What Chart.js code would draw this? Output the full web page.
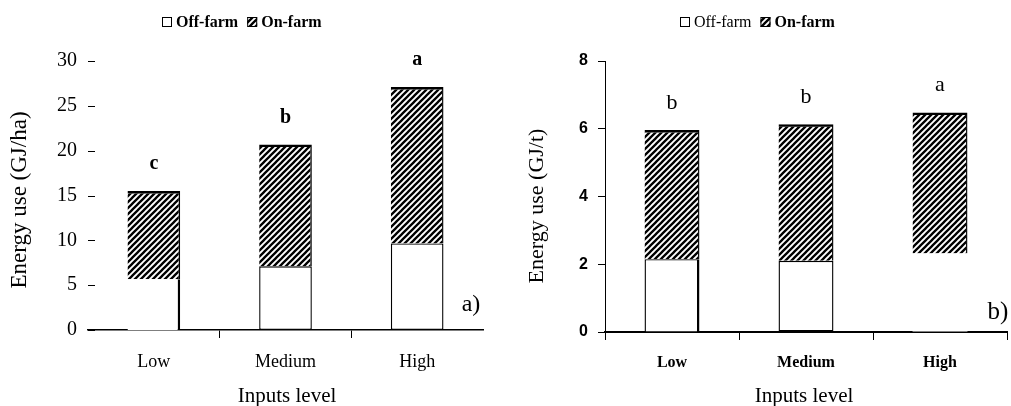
<!DOCTYPE html>
<html>
<head>
<meta charset="utf-8">
<script src="https://cdn.jsdelivr.net/npm/chart.js@4.4.1/dist/chart.umd.min.js"></script>
<style>
body { margin: 0; background: #fff; }
#wrapA { position: absolute; left: 0; top: 0; width: 500px; height: 406px; }
#wrapB { position: absolute; left: 500px; top: 0; width: 511px; height: 406px; }
</style>
</head>
<body>
<div id="wrapA"><canvas id="chartA"></canvas></div>
<div id="wrapB"><canvas id="chartB"></canvas></div>
<script>
// data
const levels = ['Low', 'Medium', 'High'];
const offFarmHa = [5.65, 7.1, 9.65];
const onFarmHa = [9.85, 13.6, 17.45];
const lettersHa = ['c', 'b', 'a'];
const yTicksHa = [0, 5, 10, 15, 20, 25, 30];

const offFarmT = [2.15, 2.1, 2.32];
const onFarmT = [3.81, 4.03, 4.16];
const lettersT = ['b', 'b', 'a'];
const yTicksT = [0, 2, 4, 6, 8];

const SERIF = '"Liberation Serif", "Times New Roman", serif';
const SANS = '"Liberation Sans", Arial, sans-serif';

function Hatch() {
    const c = document.createElement('canvas');
    c.width = 6; c.height = 6;
    const g = c.getContext('2d');
    g.strokeStyle = '#000';
    g.lineWidth = 2.3;
    g.beginPath();
    g.moveTo(-1, 7); g.lineTo(7, -1);
    g.moveTo(-1, 1); g.lineTo(1, -1);
    g.moveTo(5, 7); g.lineTo(7, 5);
    g.stroke();
    return g.createPattern(c, 'repeat');
}
const hatch = Hatch();

// legend, letters, titles, panel label
const annot = {
    id: 'annot',
    afterDraw(chart, args, o) {
        const g = chart.ctx;
        const y = chart.scales.y;
        const area = chart.chartArea;
        g.save();
        g.fillStyle = '#000';
        g.strokeStyle = '#000';

        if (o.innerTicks) {
            g.lineWidth = 1;
            y.ticks.forEach(t => {
                const py = Math.round(y.getPixelForValue(t.value)) + 0.5;
                g.beginPath();
                g.moveTo(area.left, py);
                g.lineTo(area.left + 7, py);
                g.stroke();
            });
        }

        // legend
        let lx = o.legendX;
        const ly = 22;
        const ds = chart.data.datasets;
        ds.forEach((d, i) => {
            g.fillStyle = d.legendFill;
            g.fillRect(lx, ly - 5, 10, 10);
            g.lineWidth = 1;
            g.strokeRect(lx + 0.5, ly - 4.5, 9, 9);
            lx += 14;
            g.fillStyle = '#000';
            g.font = o.legendFonts[i];
            g.textBaseline = 'middle';
            g.textAlign = 'left';
            g.fillText(d.label, lx, ly + 1);
            lx += g.measureText(d.label).width + 9;
        });

        // significance letters
        const top = chart.getDatasetMeta(1);
        g.font = o.letterFont;
        g.textAlign = 'center';
        g.textBaseline = 'middle';
        o.letters.forEach((s, i) => {
            const total = ds[0].data[i] + ds[1].data[i];
            g.fillText(s, top.data[i].x, y.getPixelForValue(total) - 27);
        });

        // panel label
        g.font = o.panelFont;
        g.fillText(o.panel, o.panelX, o.panelY);

        // axis titles
        g.font = o.titleFont;
        g.fillText('Inputs level', o.xTitleX, 396);
        g.font = o.yTitleFont;
        g.translate(o.yTitleX, o.yTitleY);
        g.rotate(-Math.PI / 2);
        g.fillText(o.yTitle, 0, 0);
        g.restore();
    }
};

let chartA = new Chart(document.getElementById('chartA'), {
    type: 'bar',
    data: {
        labels: levels,
        datasets: [{
            label: 'Off-farm',
            data: offFarmHa,
            backgroundColor: '#fff',
            legendFill: '#fff',
            borderColor: '#000',
            borderWidth: [{ top: 0, left: 0, bottom: 0, right: 2.5 }, 1.4, 1.4],
            borderSkipped: false
        }, {
            label: 'On-farm',
            data: onFarmHa,
            backgroundColor: hatch,
            legendFill: hatch,
            borderColor: '#000',
            borderWidth: { top: 2.5, right: 1.4, left: 0, bottom: 0 },
            borderSkipped: false
        }]
    },
    options: {
        responsive: true,
        maintainAspectRatio: false,
        animation: false,
        layout: { padding: { top: 61, right: 17, left: 0, bottom: 0 } },
        datasets: { bar: { barPercentage: 0.4, categoryPercentage: 1 } },
        plugins: {
            legend: { display: false },
            tooltip: { enabled: false },
            annot: {
                innerTicks: true,
                legendX: 162,
                legendFonts: ['bold 16px ' + SERIF, 'bold 16px ' + SERIF],
                letters: lettersHa,
                letterFont: 'bold 20px ' + SERIF,
                panel: 'a)', panelX: 471, panelY: 305, panelFont: '24px ' + SERIF,
                titleFont: '21px ' + SERIF, xTitleX: 287,
                yTitle: 'Energy use (GJ/ha)', yTitleFont: '23px ' + SERIF, yTitleX: 20, yTitleY: 200
            }
        },
        scales: {
            x: {
                stacked: true,
                grid: {
                    offset: true,
                    drawOnChartArea: false,
                    tickLength: 8,
                    color: c => (c.type !== 'tick' || c.index === 0) ? 'rgba(0,0,0,0)' : '#000'
                },
                border: { display: true, color: '#000', width: 1.5 },
                ticks: { color: '#000', font: { family: SERIF, size: 18 }, padding: 13 },
                afterFit: s => { s.height = 76; }
            },
            y: {
                stacked: true,
                min: yTicksHa[0],
                max: yTicksHa[yTicksHa.length - 1],
                grid: { display: false, drawTicks: false },
                border: { display: false },
                ticks: { stepSize: yTicksHa[1] - yTicksHa[0], color: '#000', font: { family: SERIF, size: 20 }, padding: 11 },
                afterFit: s => { s.width = 88; }
            }
        }
    },
    plugins: [annot]
});

let chartB = new Chart(document.getElementById('chartB'), {
    type: 'bar',
    data: {
        labels: levels,
        datasets: [{
            label: 'Off-farm',
            data: offFarmT,
            backgroundColor: '#fff',
            legendFill: '#fff',
            borderColor: '#000',
            borderWidth: [{ top: 1.4, left: 1.4, bottom: 0, right: 2.5 }, 1.4, 0],
            borderSkipped: false
        }, {
            label: 'On-farm',
            data: onFarmT,
            backgroundColor: hatch,
            legendFill: hatch,
            borderColor: '#000',
            borderWidth: { top: 2.5, right: 1.4, left: 0, bottom: 0 },
            borderSkipped: false
        }]
    },
    options: {
        responsive: true,
        maintainAspectRatio: false,
        animation: false,
        layout: { padding: { top: 61, right: 4, left: 0, bottom: 0 } },
        datasets: { bar: { barPercentage: 0.41, categoryPercentage: 1 } },
        plugins: {
            legend: { display: false },
            tooltip: { enabled: false },
            annot: {
                innerTicks: false,
                legendX: 180,
                legendFonts: ['16px ' + SERIF, 'bold 16px ' + SERIF],
                letters: lettersT,
                letterFont: '22px ' + SERIF,
                panel: 'b)', panelX: 498, panelY: 312, panelFont: '25px ' + SERIF,
                titleFont: '21px ' + SERIF, xTitleX: 304,
                yTitle: 'Energy use (GJ/t)', yTitleFont: '22px ' + SERIF, yTitleX: 37, yTitleY: 206
            }
        },
        scales: {
            x: {
                stacked: true,
                grid: { offset: true, drawOnChartArea: false, tickLength: 8, color: '#000' },
                border: { display: true, color: '#000', width: 2 },
                ticks: { color: '#000', font: { family: SERIF, size: 16, weight: 'bold' }, padding: 13 },
                afterFit: s => { s.height = 74; }
            },
            y: {
                stacked: true,
                min: yTicksT[0],
                max: yTicksT[yTicksT.length - 1],
                grid: { drawOnChartArea: false, tickLength: 7, color: '#000' },
                border: { display: true, color: '#000', width: 1 },
                ticks: { stepSize: yTicksT[1] - yTicksT[0], color: '#000', font: { family: SANS, size: 16, weight: 'bold' }, padding: 10 },
                afterFit: s => { s.width = 105; }
            }
        }
    },
    plugins: [annot]
});
</script>
</body>
</html>
